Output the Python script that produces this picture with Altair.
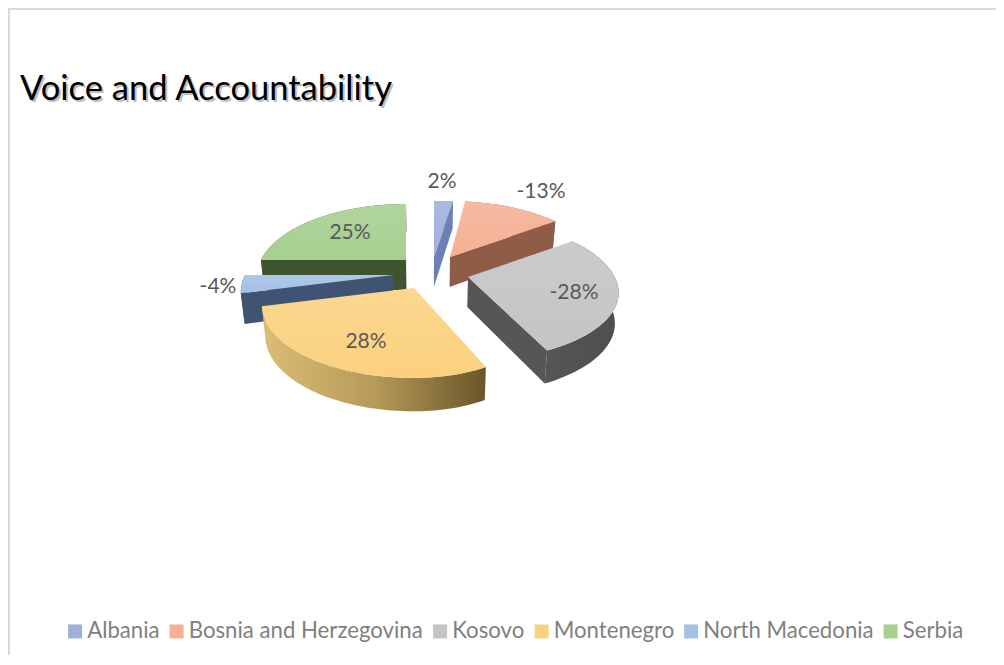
import math
import altair as alt
import pandas as pd

countries = ["Albania", "Bosnia and Herzegovina", "Kosovo", "Montenegro", "North Macedonia", "Serbia"]
shares = [2, 13, 28, 28, 4, 25]
labels = ["2%", "-13%", "-28%", "28%", "-4%", "25%"]
top_colors = ["#9fb0dc", "#f5b094", "#c4c4c4", "#fbd17f", "#a3c0e6", "#a6cf90"]

# layout (page pixels) and styling, kept apart from the values
W, H = 988, 647
APEX = {"Albania": (434, 257), "Bosnia and Herzegovina": (450, 257), "Kosovo": (468, 277),
        "Montenegro": (414, 288), "North Macedonia": (393, 275), "Serbia": (406, 260)}
LABEL_AT = {"Albania": (442, 182), "Bosnia and Herzegovina": (541, 192), "Kosovo": (574, 293),
            "Montenegro": (366, 342), "North Macedonia": (218, 287), "Serbia": (350, 233)}
RX, RY, K, THICK = 148.0, 69.0, 0.233, 30.0
SQUEEZE_R = {"Albania": 1.25, "Montenegro": 0.9, "Kosovo": 0.99}
SQUEEZE_L = {"Serbia": 0.98}
SQUEEZE_Y = {"Kosovo": 0.93}
CONVERGE_X, CONVERGE = 430.0, 0.02
PAINT_ORDER = ["Serbia", "Albania", "Bosnia and Herzegovina", "Kosovo", "North Macedonia", "Montenegro"]
CUTS = {"Serbia": ("start", "#3f5530"), "Albania": ("end", "#6c80b6"),
        "Bosnia and Herzegovina": ("end", "#8f5d47"), "Kosovo": ("end", "#565656"),
        "North Macedonia": ("start", "#3f5472"), "Montenegro": None}


def grad(colors, horizontal=True):
    n = len(colors) - 1
    return alt.LinearGradient(
        gradient="linear",
        stops=[alt.GradientStop(color=c, offset=i / n) for i, c in enumerate(colors)],
        x1=0, y1=0, x2=1 if horizontal else 0, y2=0 if horizontal else 1,
    )


RIM = {"Kosovo": grad(["#565656", "#4e4e4e"]),
       "Montenegro": grad(["#dcbd76", "#b59a58", "#6b562a"]),
       "North Macedonia": grad(["#3f5472", "#3f5472"]),
       "Serbia": grad(["#3f5530", "#3f5530"]),
       "Bosnia and Herzegovina": grad(["#8f5d47", "#8f5d47"]),
       "Albania": grad(["#6c80b6", "#6c80b6"])}


def proj(name, deg):
    apex = APEX[name]
    t = math.radians(deg)
    u, v = math.sin(t), math.cos(t)
    w = 1 / (1 + K * v)
    sq = SQUEEZE_R.get(name, 1.0) if u > 0 else SQUEEZE_L.get(name, 1.0)
    sy = SQUEEZE_Y.get(name, 1.0) if v < 0 else 1.0
    return apex[0] + RX * u * w * sq, apex[1] - RY * v * w * sy, THICK * w ** 0.4


def lower(x, y, t):
    return x + (CONVERGE_X - x) * CONVERGE, y + t


def poly(points):
    return pd.DataFrame([{"x": p[0], "y": p[1], "i": i} for i, p in enumerate(points)])


xs = alt.X("x:Q", axis=None, scale=alt.Scale(domain=[8, 8 + W], range=[0, W]))
ys = alt.Y("y:Q", axis=None, scale=alt.Scale(domain=[8, 8 + H], range=[0, H]))
order = alt.Order("i:Q")
fill_scale = alt.Scale(domain=countries, range=top_colors)

spans, a = {}, 0.0
for name, s in zip(countries, shares):
    spans[name] = (a, a + s * 3.6)
    a += s * 3.6

frame = "#d9d9d9"
base = alt.Chart(pd.DataFrame({"k": [0]}))
layers = [
    base.mark_rule(color=frame, strokeWidth=2).encode(x=alt.value(0), x2=alt.value(W), y=alt.value(1)),
    base.mark_rule(color=frame, strokeWidth=2).encode(x=alt.value(1), y=alt.value(0), y2=alt.value(H)),
]
for name in PAINT_ORDER:
    apex = APEX[name]
    a0, a1 = spans[name]
    steps = max(2, int((a1 - a0) / 2))
    angles = [a0 + (a1 - a0) * i / steps for i in range(steps + 1)]
    rim = [proj(name, d) for d in angles]
    rim_poly = [(p[0], p[1]) for p in rim] + [lower(*p) for p in reversed(rim)]
    layers.append(alt.Chart(poly(rim_poly)).mark_line(fill=RIM.get(name, "#888888"), strokeWidth=0)
                  .encode(x=xs, y=ys, order=order))
    if CUTS[name]:
        which, col = CUTS[name]
        p = proj(name, a0 if which == "start" else a1)
        cut = [(apex[0], apex[1]), (p[0], p[1]), lower(*p), lower(apex[0], apex[1], THICK)]
        layers.append(alt.Chart(poly(cut)).mark_line(fill=col, strokeWidth=0)
                      .encode(x=xs, y=ys, order=order))
    top = [(apex[0], apex[1])] + [(p[0], p[1]) for p in rim]
    top_df = poly(top).assign(country=name)
    layers.append(alt.Chart(top_df).mark_line(strokeWidth=0).encode(
        x=xs, y=ys, order=order,
        fill=alt.Fill("country:N", scale=fill_scale, legend=alt.Legend(
            title=None, orient="none", legendX=56, legendY=612, direction="horizontal", columns=6,
            symbolType="square", symbolSize=196, symbolStrokeWidth=0, labelFont="Lato", labelFontSize=22.2,
            labelColor="#7f7f7f", labelOffset=1, columnPadding=5.5, labelLimit=400, symbolOpacity=1,
        )),
    ))
    layers.append(alt.Chart(poly(top)).mark_line(
        fill=grad(["#ffffff20", "#ffffff00"], horizontal=False), strokeWidth=0
    ).encode(x=xs, y=ys, order=order))

label_df = pd.DataFrame({
    "x": [LABEL_AT[c][0] for c in countries],
    "y": [LABEL_AT[c][1] for c in countries],
    "label": labels,
})
layers.append(alt.Chart(label_df).mark_text(font="Lato", fontSize=21, color="#595959").encode(
    x=xs, y=ys, text="label:N"))

title_text = "Voice and Accountability"
layers.append(alt.Chart(pd.DataFrame({"x": [22], "y": [102], "t": [title_text]})).mark_text(
    font="Lato", fontSize=34.5, color="#000000", opacity=0.25, align="left", baseline="alphabetic"
).encode(x=xs, y=ys, text="t:N"))

chart = alt.layer(*layers).properties(
    width=W, height=H, padding=0,
    autosize=alt.AutoSizeParams(type="none"),
    title=alt.TitleParams(title_text, font="Lato", fontSize=34.5, fontWeight="normal", color="#000000",
                          anchor="start", frame="group", baseline="alphabetic", dx=12, dy=127, offset=0),
).configure_view(stroke=None)

chart.save("out.html", embed_options={"renderer": "svg", "actions": False})
